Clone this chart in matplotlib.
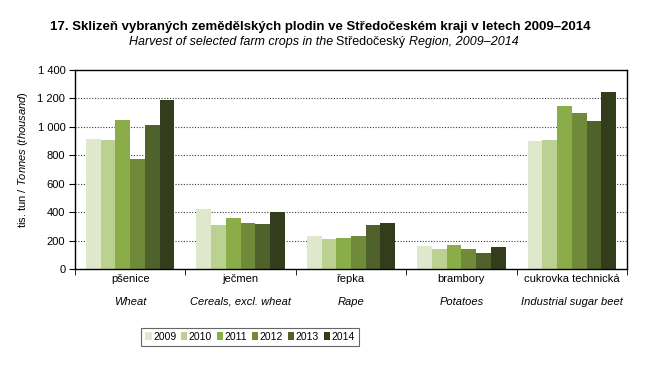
import numpy as np
import matplotlib.pyplot as plt
from matplotlib.ticker import FixedLocator, FuncFormatter

plt.rcParams['font.family'] = ['Liberation Sans', 'DejaVu Sans']
plt.rcParams['mathtext.fontset'] = 'custom'
plt.rcParams['mathtext.rm'] = 'Liberation Sans'
plt.rcParams['mathtext.it'] = 'Liberation Sans:italic'

crops_cz = ['pšenice', 'ječmen', 'řepka', 'brambory', 'cukrovka technická']
crops_en = ['Wheat', 'Cereals, excl. wheat', 'Rape', 'Potatoes', 'Industrial sugar beet']
years = ['2009', '2010', '2011', '2012', '2013', '2014']
v2009 = [914, 422, 232, 162, 901]
v2010 = [907, 310, 211, 141, 908]
v2011 = [1048, 359, 218, 169, 1147]
v2012 = [774, 324, 232, 141, 1098]
v2013 = [1013, 317, 310, 113, 1041]
v2014 = [1189, 401, 324, 155, 1245]
values = [v2009, v2010, v2011, v2012, v2013, v2014]
colors = ['#DFE7CC', '#BBD191', '#8BAD49', '#6F8B3A', '#4F622B', '#333D1C']

fig = plt.figure(figsize=(6.54, 3.66), dpi=100)
ax = fig.add_axes([0.1147, 0.265, 0.844, 0.5437])

x = np.arange(len(crops_cz))
w = 0.8 / len(years)
for i, (yr, vals) in enumerate(zip(years, values)):
    ax.bar(x - 0.4 + w * (i + 0.5), vals, w, color=colors[i], label=yr, zorder=2)

ax.set_xlim(-0.5, len(crops_cz) - 0.5)
ax.set_ylim(0, 1400)
ax.set_yticks(np.arange(0, 1401, 200))
ax.yaxis.set_major_formatter(FuncFormatter(lambda v, p: '{:,}'.format(int(v)).replace(',', ' ')))
for yv in range(200, 1400, 200):
    ax.axhline(yv, color='#404040', lw=0.8, ls=(0, (1, 1.5)), zorder=1)

ax.set_xticks(x)
ax.set_xticklabels([])
ax.tick_params(axis='x', which='major', length=0)
ax.xaxis.set_minor_locator(FixedLocator(np.arange(-0.5, len(crops_cz), 1)))
ax.tick_params(axis='x', which='minor', length=4, direction='out')
ax.tick_params(axis='y', length=4, labelsize=8, pad=3)
for i in range(len(crops_cz)):
    ax.text(x[i], -0.05, crops_cz[i], transform=ax.get_xaxis_transform(),
            ha='center', va='center', fontsize=8)
    ax.text(x[i], -0.165, crops_en[i], transform=ax.get_xaxis_transform(),
            ha='center', va='center', fontsize=8, style='italic')

for s in ax.spines.values():
    s.set_linewidth(1)

fig.text(0.035, 0.565, r'tis. tun / $\it{Tonnes\ (thousand)}$', rotation=90,
         ha='center', va='center', fontsize=8)

fig.text(0.49, 0.927, '17. Sklizeň vybraných zemědělských plodin ve Středočeském kraji v letech 2009–2014',
         ha='center', va='center', fontsize=9.5, fontweight='bold')

# subtitle: mixed italic / upright pieces laid out side by side
parts = [('Harvest of selected farm crops in the ', 'italic'),
         ('Středočeský ', 'normal'),
         ('Region, 2009–2014', 'italic')]
renderer = fig.canvas.get_renderer()
items = []
total = 0
for s, st in parts:
    t = fig.text(0, 0.885, s, ha='left', va='center', fontsize=9, style=st)
    wpx = t.get_window_extent(renderer).width
    items.append((t, wpx))
    total += wpx
figw = fig.get_figwidth() * fig.dpi
x0 = 0.495 * figw - total / 2
for t, wpx in items:
    t.set_x(x0 / figw)
    x0 += wpx

leg = fig.legend(loc='center', bbox_to_anchor=(250 / 654, 1 - 337 / 366), ncol=6,
                 fontsize=7.5, frameon=True, fancybox=False, edgecolor='#404040',
                 handlelength=0.6, handleheight=0.8, handletextpad=0.15,
                 columnspacing=0.45, borderpad=0.4)
leg.get_frame().set_linewidth(0.8)

fig.savefig('out.png', dpi=100)
